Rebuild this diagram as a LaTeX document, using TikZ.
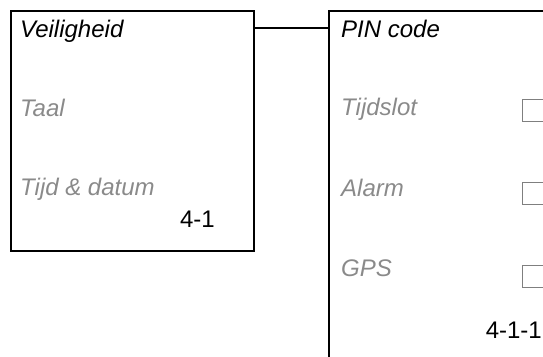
\documentclass[tikz,border=0pt]{standalone}
\usepackage{fontspec}
\setmainfont{Liberation Sans}
\usetikzlibrary{positioning}
\definecolor{optiegrijs}{HTML}{8A8A8A}
\definecolor{vakgrijs}{HTML}{7F7F7F}
\tikzset{
	menubox/.style={draw=black, line width=2pt, inner sep=0pt, anchor=north west},
	titel/.style={anchor=base west, inner sep=0pt, font=\fontsize{24}{28}\selectfont\itshape, text=black},
	optie/.style={anchor=base west, inner sep=0pt, font=\fontsize{24}{28}\selectfont\itshape, text=optiegrijs},
	nummer/.style={anchor=base east, inner sep=0pt, font=\fontsize{24}{28}\selectfont, text=black},
	vakje/.style={draw=vakgrijs, line width=1pt, minimum size=22pt, inner sep=0pt, anchor=north west},
	verbind/.style={draw=black, line width=2pt}
}
\begin{document}
\begin{tikzpicture}[x=1pt, y=-1pt]
	\useasboundingbox (0,0) rectangle (543,356);
	\clip (0,0) rectangle (543,356);
	% menu 4-1
	\node[menubox, minimum width=243pt, minimum height=240pt] (veilbox) at (10,10) {};
	\node[titel] (veil) at (20,37) {Veiligheid};
	\node[optie] (taal) at (20,116) {Taal};
	\node[optie] (tijd) at (20,195) {Tijd \& datum};
	\node[nummer] (nr41) at (215,227) {4-1};
	% menu 4-1-1
	\node[menubox, minimum width=260pt, minimum height=380pt] (pinbox) at (328,10) {};
	\node[titel] (pin) at (341,37) {PIN code};
	\node[optie] (slot) at (341,115) {Tijdslot};
	\node[optie] (alarm) at (341,196) {Alarm};
	\node[optie] (gps) at (341,276) {GPS};
	\node[nummer] (nr411) at (542,338) {4-1-1};
	\node[vakje] (vslot) at (522,99) {};
	\node[vakje] (valarm) at (522,182) {};
	\node[vakje] (vgps) at (522,265) {};
	% verbinding
	\draw[verbind] ([yshift=3pt]veilbox.east |- veil.center) -- ([yshift=3pt]pinbox.west |- veil.center);
\end{tikzpicture}
\end{document}
